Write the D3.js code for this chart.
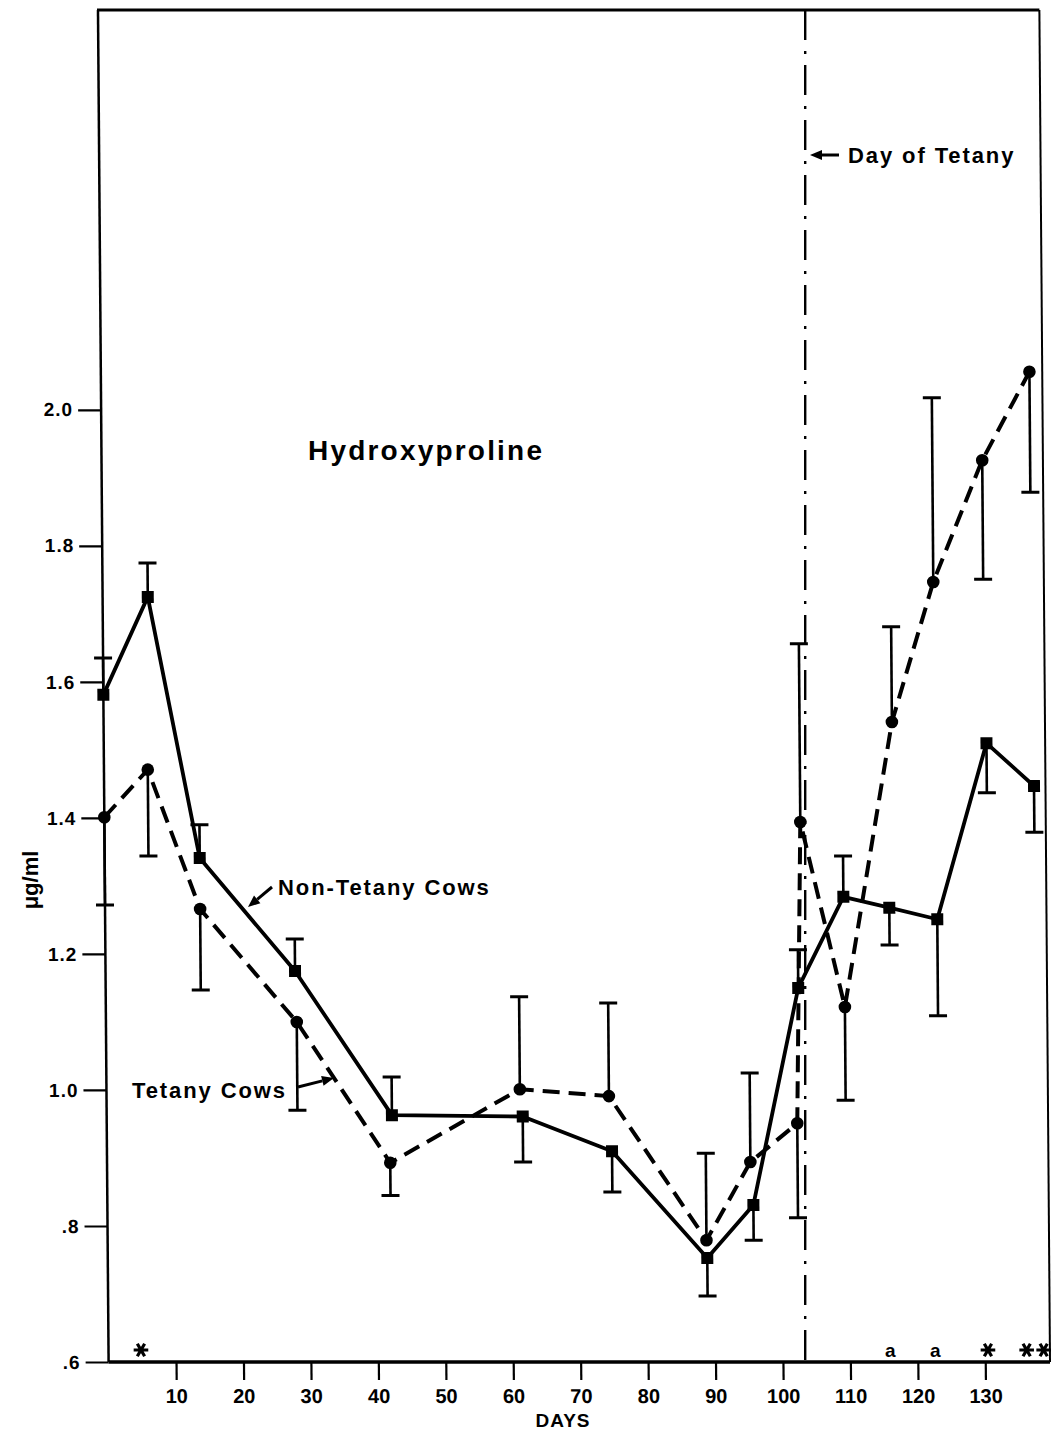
<!DOCTYPE html>
<html><head><meta charset="utf-8">
<script src="https://cdn.jsdelivr.net/npm/d3@7"></script>
<style>body{margin:0;background:#fff}</style>
</head><body>
<svg id="c" width="1055" height="1435" xmlns="http://www.w3.org/2000/svg"></svg>
<script>
// ---- data ----
const yTicks = [0.6, 0.8, 1.0, 1.2, 1.4, 1.6, 1.8, 2.0];
const yTickLabels = [".6", ".8", "1.0", "1.2", "1.4", "1.6", "1.8", "2.0"];
const xTicks = [10, 20, 30, 40, 50, 60, 70, 80, 90, 100, 110, 120, 130];
const xTickLabels = ["10", "20", "30", "40", "50", "60", "70", "80", "90", "100", "110", "120", "130"];

const nonTetanyDays   = [0, 6.7, 14.1, 28.1, 42.3, 61.7, 74.9, 88.9, 95.8, 102.7, 109.5, 116.3, 123.4, 130.9, 137.9];
const nonTetanyValues = [1.581, 1.725, 1.341, 1.175, 0.963, 0.961, 0.910, 0.753, 0.831, 1.150, 1.284, 1.268, 1.251, 1.510, 1.447];
const nonTetanyErrEnd = [1.635, 1.775, 1.390, 1.222, 1.019, 0.894, 0.850, 0.697, 0.779, 1.206, 1.344, 1.213, 1.109, 1.437, 1.379];

const tetanyDays   = [0, 6.5, 14.1, 28.3, 42.0, 61.3, 74.5, 88.8, 95.4, 102.4, 103.2, 109.6, 116.9, 123.2, 130.6, 137.7];
const tetanyValues = [1.401, 1.471, 1.266, 1.100, 0.893, 1.001, 0.991, 0.779, 0.894, 0.951, 1.394, 1.122, 1.541, 1.747, 1.926, 2.056];
const tetanyErrEnd = [1.272, 1.344, 1.147, 0.970, 0.845, 1.137, 1.128, 0.907, 1.025, 0.812, 1.656, 0.985, 1.681, 2.018, 1.751, 1.879];

const dayOfTetany = 103.3;
const sigDays   = [4.8, 115.9, 122.6, 130.4, 137.4];
const sigLabels = ["*", "a", "a", "*", "**"];

const titleText = "Hydroxyproline";
const yLabel = "\u03bcg/ml";
const xLabel = "DAYS";

// ---- layout ----
const FONT = "'Liberation Sans', Arial, Helvetica, sans-serif";
const svg = d3.select("#c");
const x = d3.scaleLinear().domain([0, 139.6]).range([108.6, 1050]);
const y = d3.scaleLinear().domain([0.6, 2.588]).range([1362, 10]);
const base = y(0.6);

// scanned original is slightly sheared: emulate with a small skew about the baseline
const g = svg.append("g")
  .attr("transform", `translate(0,${base}) skewX(0.45) translate(0,${-base})`);

// frame
g.append("line").attr("x1", x(0)).attr("x2", x(0)).attr("y1", y(2.588)).attr("y2", base)
  .attr("stroke", "#000").attr("stroke-width", 2.5);
g.append("line").attr("x1", x(0) - 1).attr("x2", x(139.6)).attr("y1", y(2.588)).attr("y2", y(2.588))
  .attr("stroke", "#000").attr("stroke-width", 3);
g.append("line").attr("x1", x(139.6)).attr("x2", x(139.6)).attr("y1", y(2.588)).attr("y2", base)
  .attr("stroke", "#000").attr("stroke-width", 2);
g.append("line").attr("x1", x(0)).attr("x2", x(139.6)).attr("y1", base).attr("y2", base)
  .attr("stroke", "#000").attr("stroke-width", 3.5);

// y axis
const yAxis = d3.axisLeft(y).tickValues(yTicks)
  .tickFormat((d, i) => yTickLabels[i]).tickSize(23).tickPadding(5);
const ya = g.append("g").attr("transform", `translate(${x(0)},0)`).call(yAxis);
ya.select(".domain").remove();
ya.selectAll("line").attr("stroke", "#000").attr("stroke-width", 2.2);
ya.selectAll("text").attr("font-family", FONT).attr("font-size", 19).attr("font-weight", "bold")
  .attr("fill", "#000").attr("letter-spacing", 1);

// x axis
const xAxis = d3.axisBottom(x).tickValues(xTicks)
  .tickFormat((d, i) => xTickLabels[i]).tickSize(18).tickPadding(9);
const xa = g.append("g").attr("transform", `translate(0,${base})`).call(xAxis);
xa.select(".domain").remove();
xa.selectAll("line").attr("stroke", "#000").attr("stroke-width", 2.2);
xa.selectAll("text").attr("font-family", FONT).attr("font-size", 20).attr("font-weight", "bold")
  .attr("fill", "#000");

// error bars
function errorBars(days, vals, ends) {
  const eg = g.append("g");
  days.forEach((d, i) => {
    eg.append("line").attr("x1", x(d)).attr("x2", x(d)).attr("y1", y(vals[i])).attr("y2", y(ends[i]))
      .attr("stroke", "#000").attr("stroke-width", 2.6);
    eg.append("line").attr("x1", x(d) - 9).attr("x2", x(d) + 9).attr("y1", y(ends[i])).attr("y2", y(ends[i]))
      .attr("stroke", "#000").attr("stroke-width", 3);
  });
}
errorBars(nonTetanyDays, nonTetanyValues, nonTetanyErrEnd);
errorBars(tetanyDays, tetanyValues, tetanyErrEnd);

// lines
const line = d3.line().x(d => x(d[0])).y(d => y(d[1]));
const ntPts = nonTetanyDays.map((d, i) => [d, nonTetanyValues[i]]);
const tPts = tetanyDays.map((d, i) => [d, tetanyValues[i]]);
g.append("path").datum(ntPts).attr("d", line).attr("fill", "none")
  .attr("stroke", "#000").attr("stroke-width", 3.8).attr("stroke-linejoin", "round");
g.append("path").datum(tPts).attr("d", line).attr("fill", "none")
  .attr("stroke", "#000").attr("stroke-width", 4).attr("stroke-dasharray", "17,9");

// markers
g.append("g").selectAll("rect").data(ntPts).join("rect")
  .attr("x", d => x(d[0]) - 6).attr("y", d => y(d[1]) - 6)
  .attr("width", 12).attr("height", 12).attr("fill", "#000");
g.append("g").selectAll("circle").data(tPts).join("circle")
  .attr("cx", d => x(d[0])).attr("cy", d => y(d[1])).attr("r", 6.3).attr("fill", "#000");

// day of tetany line
svg.append("line").attr("x1", x(dayOfTetany)).attr("x2", x(dayOfTetany))
  .attr("y1", y(2.588)).attr("y2", base)
  .attr("stroke", "#000").attr("stroke-width", 2.4).attr("stroke-dasharray", "30,11,3,11");

// significance markers
const star = d3.symbol(d3.symbolAsterisk, 150);
sigDays.forEach((d, i) => {
  const lab = sigLabels[i];
  if (lab.includes("*")) {
    const n = lab.length;
    for (let k = 0; k < n; k++) {
      const cx = x(d) + (k - (n - 1) / 2) * 17;
      svg.append("path").attr("d", star()).attr("transform", `translate(${cx},${base - 12}) rotate(90)`)
        .attr("fill", "none").attr("stroke", "#000").attr("stroke-width", 3.2);
    }
  } else {
    svg.append("text").attr("x", x(d)).attr("y", base - 5).attr("text-anchor", "middle")
      .attr("font-family", FONT).attr("font-size", 19).attr("font-weight", "bold").text(lab);
  }
});

// axis titles
svg.append("text").attr("x", 563).attr("y", 1427).attr("text-anchor", "middle")
  .attr("font-family", FONT).attr("font-size", 19).attr("font-weight", "bold").attr("letter-spacing", 1)
  .text(xLabel);
svg.append("text").attr("transform", "translate(38,880) rotate(-90)").attr("text-anchor", "middle")
  .attr("font-family", FONT).attr("font-size", 22).attr("font-weight", "bold")
  .text(yLabel);

// title
svg.append("text").attr("x", 308).attr("y", 460)
  .attr("font-family", FONT).attr("font-size", 28).attr("font-weight", "bold").attr("letter-spacing", 2.2)
  .text(titleText);

// annotations
function arrow(x1, y1, x2, y2) {
  const ang = Math.atan2(y2 - y1, x2 - x1);
  const hl = 12, hw = 5;
  const bx = x2 - hl * Math.cos(ang), by = y2 - hl * Math.sin(ang);
  svg.append("line").attr("x1", x1).attr("y1", y1).attr("x2", bx).attr("y2", by)
    .attr("stroke", "#000").attr("stroke-width", 3);
  const px = -Math.sin(ang) * hw, py = Math.cos(ang) * hw;
  svg.append("path").attr("d", `M${x2},${y2}L${bx + px},${by + py}L${bx - px},${by - py}Z`).attr("fill", "#000");
}
const annot = [
  { text: "Day of Tetany", tx: 848, ty: 163, a: [839, 155, 810, 155] },
  { text: "Non-Tetany Cows", tx: 278, ty: 895, a: [272, 887, 248, 907] },
  { text: "Tetany Cows", tx: 132, ty: 1098, a: [298, 1087, 334, 1078] }
];
annot.forEach(o => {
  svg.append("text").attr("x", o.tx).attr("y", o.ty)
    .attr("font-family", FONT).attr("font-size", 22).attr("font-weight", "bold").attr("letter-spacing", 1.9)
    .text(o.text);
  arrow(...o.a);
});
</script>
</body></html>
